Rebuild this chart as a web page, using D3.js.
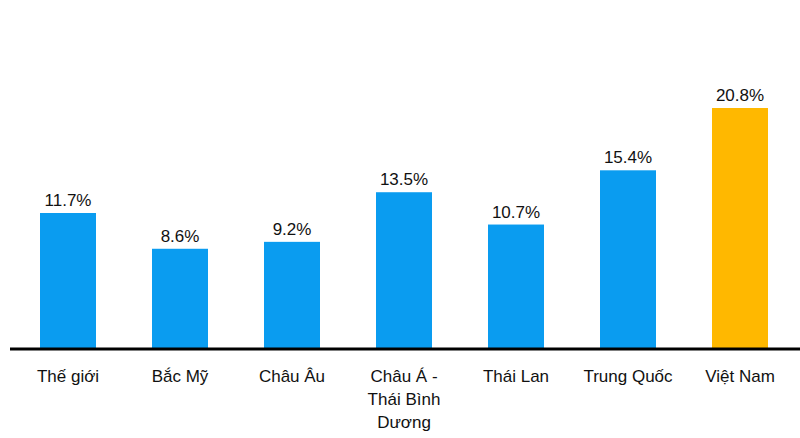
<!DOCTYPE html>
<html><head><meta charset="utf-8">
<script src="https://cdn.jsdelivr.net/npm/d3@7"></script>
<style>body{margin:0;background:#fff}</style>
</head><body>
<svg id="chart" width="800" height="438"></svg>
<script>
var categories = [["Thế giới"], ["Bắc Mỹ"], ["Châu Âu"], ["Châu Á -", "Thái Bình", "Dương"], ["Thái Lan"], ["Trung Quốc"], ["Việt Nam"]];
var values = [11.7, 8.6, 9.2, 13.5, 10.7, 15.4, 20.8];
var colors = ["#0a9cf0", "#0a9cf0", "#0a9cf0", "#0a9cf0", "#0a9cf0", "#0a9cf0", "#ffb800"];

var svg = d3.select("#chart");
var baseline = 348;

var x = d3.scaleBand().domain(d3.range(values.length)).range([12, 796]).paddingInner(0.5).paddingOuter(0.25);
var y = d3.scaleLinear().domain([0, 20.8]).range([baseline, 108]);

svg.selectAll("rect.bar").data(values).enter().append("rect")
    .attr("class", "bar")
    .attr("x", function(d, i) { return x(i); })
    .attr("y", function(d) { return y(d); })
    .attr("width", x.bandwidth())
    .attr("height", function(d) { return baseline - y(d); })
    .attr("fill", function(d, i) { return colors[i]; });

svg.selectAll("text.val").data(values).enter().append("text")
    .attr("x", function(d, i) { return x(i) + x.bandwidth() / 2; })
    .attr("y", function(d) { return y(d) - 7; })
    .attr("text-anchor", "middle")
    .style("font", "17px 'Liberation Sans', Arial, sans-serif")
    .attr("fill", "#111")
    .text(function(d) { return d.toFixed(1) + "%"; });

svg.append("line")
    .attr("x1", 10).attr("x2", 800)
    .attr("y1", baseline + 1).attr("y2", baseline + 1)
    .attr("stroke", "#000").attr("stroke-width", 3);

var lab = svg.selectAll("text.cat").data(categories).enter().append("text")
    .attr("text-anchor", "middle")
    .style("font", "17px 'Liberation Sans', Arial, sans-serif")
    .attr("fill", "#111");
lab.each(function(lines, i) {
    d3.select(this).selectAll("tspan").data(lines).enter().append("tspan")
        .attr("x", x(i) + x.bandwidth() / 2)
        .attr("y", function(d, j) { return 382 + j * 23; })
        .text(function(d) { return d; });
});
</script>
</body></html>
